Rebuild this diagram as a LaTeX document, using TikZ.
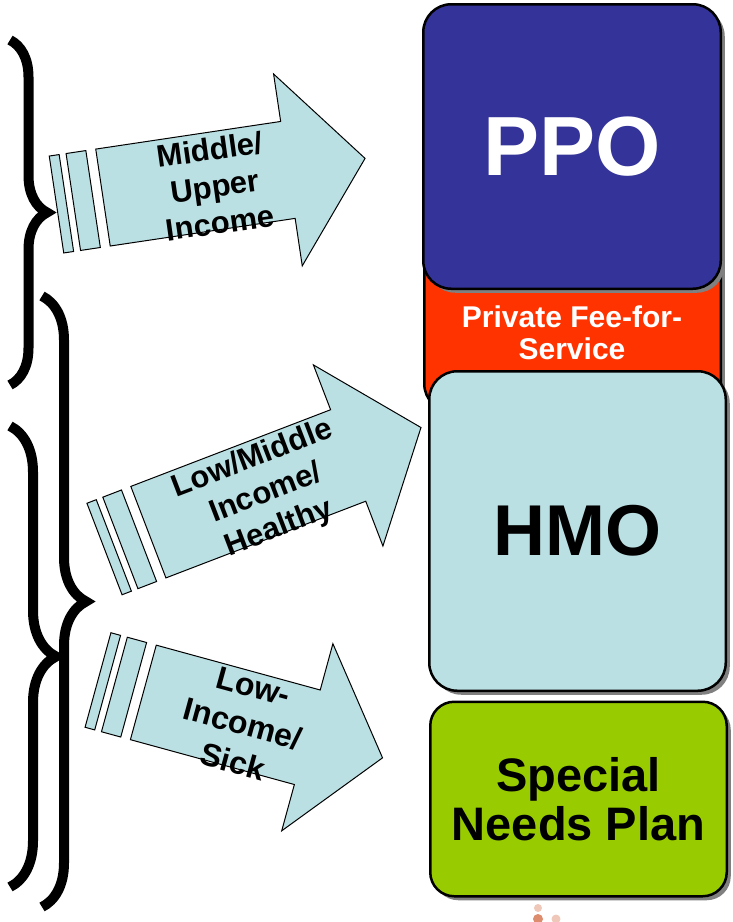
\documentclass[tikz,border=0pt]{standalone}
\usepackage{fontspec}
\setmainfont{Liberation Sans}
\usetikzlibrary{shadows,decorations.pathreplacing}
\definecolor{ppoblue}{RGB}{51,51,153}
\definecolor{pffsred}{RGB}{255,51,0}
\definecolor{hmoblue}{RGB}{187,224,227}
\definecolor{snpgreen}{RGB}{153,204,0}
\definecolor{dotsalmon}{RGB}{222,140,110}
\definecolor{dotpink}{RGB}{240,200,185}

\tikzset{
  plan/.style={rectangle, draw, line width=2.5pt, rounded corners=28pt, align=center,
    drop shadow={shadow xshift=4pt, shadow yshift=-4pt, fill=black!50, opacity=1}},
  incomearrow/.style={draw, line width=1pt, fill=hmoblue},
  arrowtext/.style={align=center, font=\bfseries\fontsize{31}{37}\selectfont},
  bracket/.style={line width=10pt, decorate, decoration={brace, amplitude=#1}},
  % two stripes, then the arrow body and head; #1 = total length
  pics/striparrow/.style={code={
    \draw[incomearrow] (0,-49) rectangle (10,49);
    \draw[incomearrow] (17,-49) rectangle (37,49);
    \draw[incomearrow] (47,-49) -- (#1-78,-49) -- (#1-78,-97) -- (#1,0)
      -- (#1-78,97) -- (#1-78,49) -- (47,49) -- cycle;
  }}
}

\begin{document}
\begin{tikzpicture}[x=1pt, y=-1pt]
  \useasboundingbox (0,0) rectangle (732,922);

  % plan boxes
  \node[plan, fill=pffsred, minimum width=296.5pt, minimum height=211.75pt] (pffs) at (572.5,305.9) {};
  \node[plan, fill=ppoblue, minimum width=297.5pt, minimum height=284.5pt, text=white,
    font=\bfseries\fontsize{84}{90}\selectfont] (ppo) at (572,146.5) {PPO};
  \node[text=white, align=center, font=\bfseries\fontsize{30}{32}\selectfont] (pffsText) at (572,333) {Private Fee-for-\\Service};
  \node[plan, fill=hmoblue, minimum width=296.5pt, minimum height=319.5pt,
    font=\bfseries\fontsize{72}{80}\selectfont] (hmo) at (577.5,531) {HMO};
  \node[plan, fill=snpgreen, minimum width=296.5pt, minimum height=194.5pt, rounded corners=24pt,
    font=\bfseries\fontsize{47}{49}\selectfont] (snp) at (578.5,799) {Special\\Needs Plan};

  % income arrows
  \pic[rotate=8.5] (midupArrow) at (56.5,204.5) {striparrow=312};
  \pic[rotate=21] (lowmidArrow) at (104.5,549) {striparrow=339};
  \pic[rotate=-15.3] (lowsickArrow) at (98,680) {striparrow=295};
  \node[arrowtext, rotate=8] (midup) at (215,186) {Middle/\\Upper\\Income};
  \node[arrowtext, rotate=21] (lowmid) at (266,494) {Low/Middle\\Income/\\Healthy};
  \node[arrowtext, rotate=-15.3, font=\bfseries\fontsize{32}{39}\selectfont] (lowsick) at (243,724) {Low-\\Income/\\Sick};

  % braces on the left
  \coordinate (braceAtop) at (10,40);
  \coordinate (braceAbot) at (10,385);
  \coordinate (braceBtop) at (42,296);
  \coordinate (braceBbot) at (42,907);
  \coordinate (braceCtop) at (10,426);
  \coordinate (braceCbot) at (10,887);
  \draw[bracket=37pt] (braceAtop) -- (braceAbot);
  \draw[bracket=44pt] (braceBtop) -- (braceBbot);
  \draw[bracket=46pt] (braceCtop) -- (braceCbot);

  % dots at the bottom edge
  \fill[dotpink] (538,908) circle (4);
  \fill[dotsalmon] (538,919) circle (5);
  \fill[dotpink] (556,919) circle (4.5);
\end{tikzpicture}
\end{document}
